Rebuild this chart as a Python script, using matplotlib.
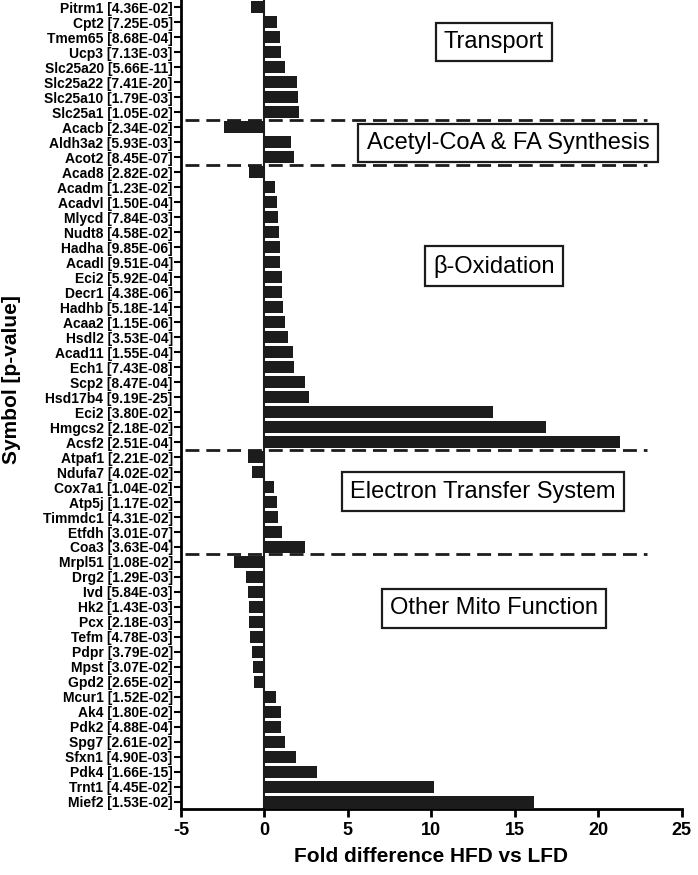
"""Fold difference HFD vs LFD for mitochondrial genes, grouped by function."""
import numpy as np
import matplotlib
matplotlib.use("Agg")
import matplotlib.pyplot as plt

plt.rcParams["font.family"] = ["Liberation Sans", "DejaVu Sans"]
plt.rcParams["axes.unicode_minus"] = False

# top to bottom
genes = ["Pitrm1", "Cpt2", "Tmem65", "Ucp3", "Slc25a20", "Slc25a22", "Slc25a10", "Slc25a1",
         "Acacb", "Aldh3a2", "Acot2",
         "Acad8", "Acadm", "Acadvl", "Mlycd", "Nudt8", "Hadha", "Acadl", "Eci2", "Decr1",
         "Hadhb", "Acaa2", "Hsdl2", "Acad11", "Ech1", "Scp2", "Hsd17b4", "Eci2", "Hmgcs2", "Acsf2",
         "Atpaf1", "Ndufa7", "Cox7a1", "Atp5j", "Timmdc1", "Etfdh", "Coa3",
         "Mrpl51", "Drg2", "Ivd", "Hk2", "Pcx", "Tefm", "Pdpr", "Mpst", "Gpd2", "Mcur1",
         "Ak4", "Pdk2", "Spg7", "Sfxn1", "Pdk4", "Trnt1", "Mief2"]
pvals = ["4.36E-02", "7.25E-05", "8.68E-04", "7.13E-03", "5.66E-11", "7.41E-20", "1.79E-03", "1.05E-02",
         "2.34E-02", "5.93E-03", "8.45E-07",
         "2.82E-02", "1.23E-02", "1.50E-04", "7.84E-03", "4.58E-02", "9.85E-06", "9.51E-04", "5.92E-04",
         "4.38E-06", "5.18E-14", "1.15E-06", "3.53E-04", "1.55E-04", "7.43E-08", "8.47E-04", "9.19E-25",
         "3.80E-02", "2.18E-02", "2.51E-04",
         "2.21E-02", "4.02E-02", "1.04E-02", "1.17E-02", "4.31E-02", "3.01E-07", "3.63E-04",
         "1.08E-02", "1.29E-03", "5.84E-03", "1.43E-03", "2.18E-03", "4.78E-03", "3.79E-02", "3.07E-02",
         "2.65E-02", "1.52E-02", "1.80E-02", "4.88E-04", "2.61E-02", "4.90E-03", "1.66E-15",
         "4.45E-02", "1.53E-02"]
fold = [-0.79, 0.75, 0.93, 0.99, 1.25, 1.95, 2.02, 2.10,
        -2.42, 1.60, 1.79,
        -0.95, 0.65, 0.73, 0.81, 0.85, 0.91, 0.95, 1.05, 1.07,
        1.11, 1.25, 1.41, 1.73, 1.80, 2.42, 2.65, 13.7, 16.9, 21.3,
        -1.00, -0.74, 0.60, 0.73, 0.81, 1.05, 2.45,
        -1.80, -1.10, -0.98, -0.93, -0.90, -0.88, -0.76, -0.68, -0.64, 0.68,
        0.98, 1.02, 1.24, 1.88, 3.14, 10.16, 16.17]

groups = ["Transport", "Acetyl-CoA & FA Synthesis", "\u03b2-Oxidation",
          "Electron Transfer System", "Other Mito Function"]
group_sizes = [8, 3, 19, 7, 17]
# label box centres (x in fold units, y in rows)
box_pos = [(13.75, 2.33), (14.6, 9.07), (13.75, 17.27), (13.1, 32.3), (13.75, 40.1)]


def main():
    fig = plt.figure(figsize=(6.98, 8.75), dpi=100)
    ax = fig.add_axes([0.2593, 0.0754, 0.7173, 0.9246])

    y = np.arange(len(genes))
    ax.barh(y, fold, height=0.86, color="#1c1c1c", edgecolor="none")

    ax.set_yticks(y)
    ax.set_yticklabels([f"{g} [{p}]" for g, p in zip(genes, pvals)],
                       fontsize=10, fontweight="bold")
    ax.set_ylim(len(genes) - 0.53, -0.47)
    ax.set_xlim(-5, 25)
    ax.set_xticks(np.arange(-5, 26, 5))
    ax.tick_params(axis="x", labelsize=13, width=2, length=6, pad=3)
    ax.tick_params(axis="y", width=1.5, length=5, pad=1)
    for lbl in ax.get_xticklabels():
        lbl.set_fontweight("bold")

    for s in ["top", "right"]:
        ax.spines[s].set_visible(False)
    for s in ["left", "bottom"]:
        ax.spines[s].set_linewidth(2)
    ax.axvline(0, color="#1c1c1c", lw=1.5)

    bounds = np.cumsum(group_sizes)[:-1]
    for b in bounds:
        ax.plot([-4.75, 22.95], [b - 0.5, b - 0.5], color="#1c1c1c", lw=2,
                linestyle=(0, (5, 2.5)), clip_on=False)

    for name, (bx, by) in zip(groups, box_pos):
        ax.text(bx, by, name, fontsize=17, ha="center", va="center",
                bbox=dict(boxstyle="square,pad=0.35", fc="white", ec="#1c1c1c", lw=1.6))

    ax.set_xlabel("Fold difference HFD vs LFD", fontsize=15, fontweight="bold", labelpad=6)
    fig.text(0.017, 0.566, "Symbol [p-value]", rotation=90, fontsize=15,
             fontweight="bold", ha="center", va="center")

    fig.savefig("out.png", dpi=100)
    plt.close(fig)


if __name__ == "__main__":
    main()
